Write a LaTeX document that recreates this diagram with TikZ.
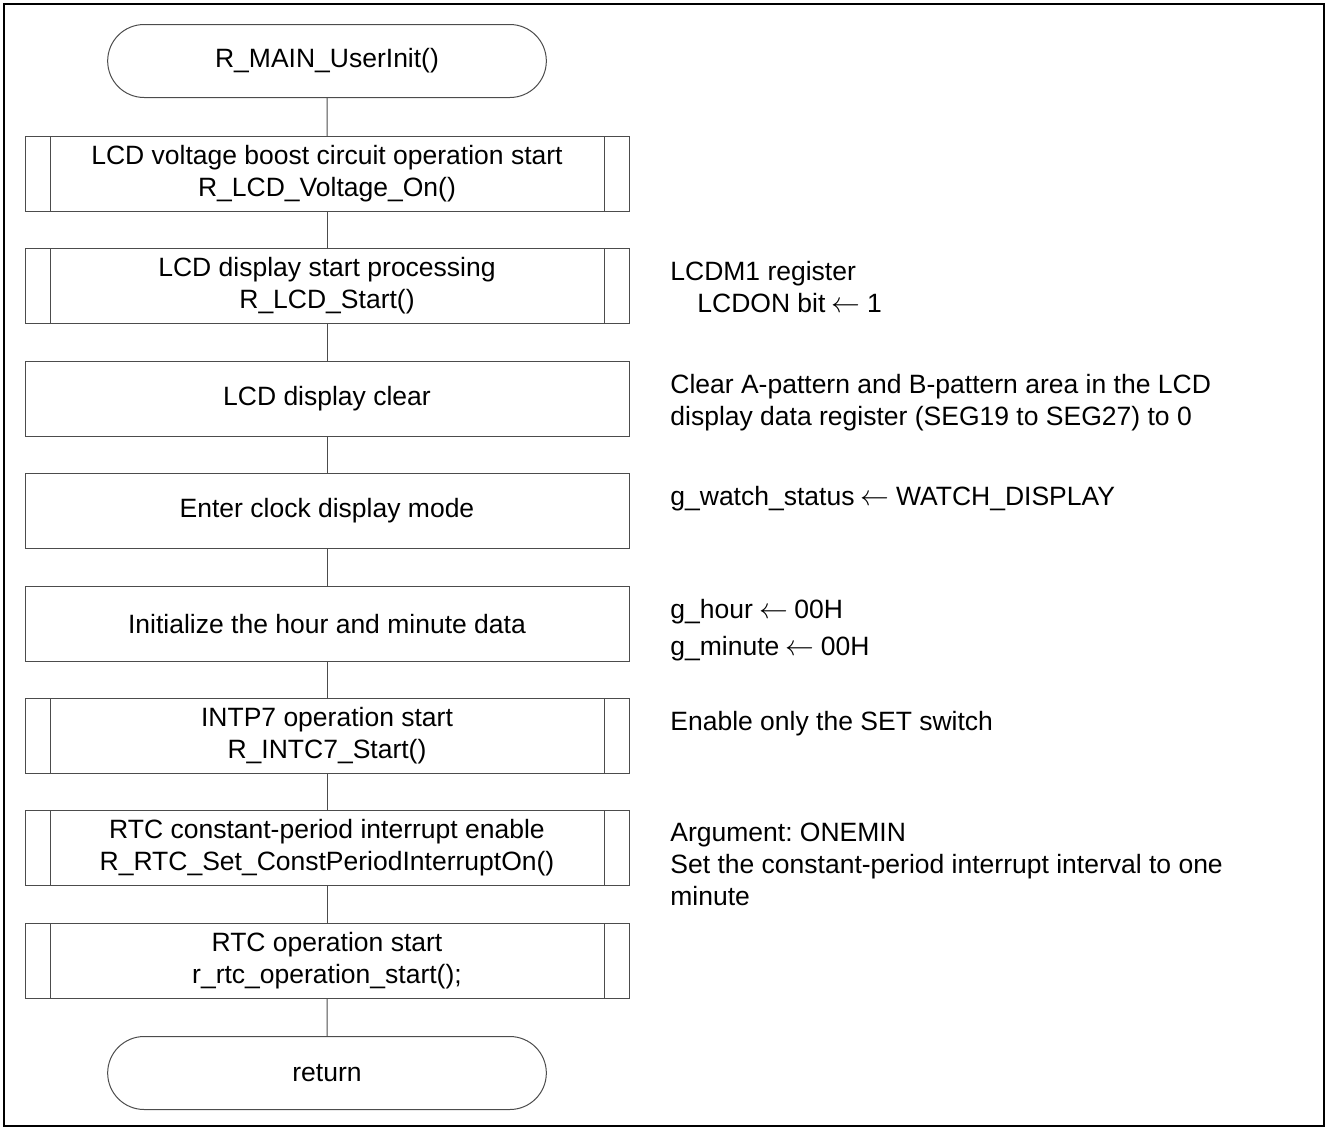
\documentclass[tikz,border=0pt]{standalone}
\usepackage{fontspec}
\setmainfont{Liberation Sans}
\usetikzlibrary{shapes.misc}
\definecolor{linegray}{rgb}{0.3,0.3,0.3}
\frenchspacing

\begin{document}
\begin{tikzpicture}[x=0.5pt,y=-0.5pt,
  every node/.style={font=\fontsize{13.25}{16}\selectfont},
  term/.style={draw=linegray,line width=0.5pt,rounded rectangle,minimum width=226pt,minimum height=36.5pt,align=center},
  proc/.style={draw=linegray,line width=0.5pt,rectangle,minimum width=302pt,minimum height=37.5pt,align=center},
  subr/.style={proc,path picture={
    \draw[linegray,line width=0.5pt]
      ([xshift=12.5pt]path picture bounding box.north west) -- ([xshift=12.5pt]path picture bounding box.south west)
      ([xshift=-12.5pt]path picture bounding box.north east) -- ([xshift=-12.5pt]path picture bounding box.south east);}},
  note/.style={anchor=north west,inner sep=0pt,align=left}]
\def\cx{327}
\def\nx{670}
\def\la{\hspace{0.24em}$\leftarrow$\hspace{0.24em}}
\useasboundingbox (0,0) rectangle (1328,1130);
\draw[line width=1.1pt] (4,4) rectangle (1324,1126);

\node[term] (start) at (\cx,61) {R\_MAIN\_UserInit()};
\node[subr] (boost) at (\cx,174) {LCD voltage boost circuit operation start\\R\_LCD\_Voltage\_On()};
\node[subr] (lcdon) at (\cx,286) {LCD display start processing\\R\_LCD\_Start()};
\node[proc] (clear) at (\cx,399) {LCD display clear};
\node[proc] (mode) at (\cx,511) {Enter clock display mode};
\node[proc] (init) at (\cx,624) {Initialize the hour and minute data};
\node[subr] (intp) at (\cx,736) {INTP7 operation start\\R\_INTC7\_Start()};
\node[subr] (const) at (\cx,848) {RTC constant-period interrupt enable\\R\_RTC\_Set\_ConstPeriodInterruptOn()};
\node[subr] (rtc) at (\cx,961) {RTC operation start\\r\_rtc\_operation\_start();};
\node[term] (ret) at (\cx,1073) {return};

\foreach \a/\b in {start/boost,boost/lcdon,lcdon/clear,clear/mode,mode/init,init/intp,intp/const,const/rtc,rtc/ret}
  \draw[linegray,line width=0.5pt] (\a) -- (\b);

% notes beside the boxes
\node[note] (lcdonnote) at (\nx,261) {LCDM1 register\\\hspace*{13.5pt}LCDON bit\la 1};
\node[note] (clearnote) at (\nx,374) {Clear A-pattern and B-pattern area in the LCD\\display data register (SEG19 to SEG27) to 0};
\node[note] (modenote) at (\nx,486) {g\_watch\_status\la WATCH\_DISPLAY};
\node[note] (initnote) at (\nx,599) {g\_hour\la 00H\\[2.5pt]g\_minute\la 00H};
\node[note] (intpnote) at (\nx,711) {Enable only the SET switch};
\node[note] (constnote) at (\nx,823) {Argument: ONEMIN\\Set the constant-period interrupt interval to one\\minute};

\end{tikzpicture}
\end{document}
